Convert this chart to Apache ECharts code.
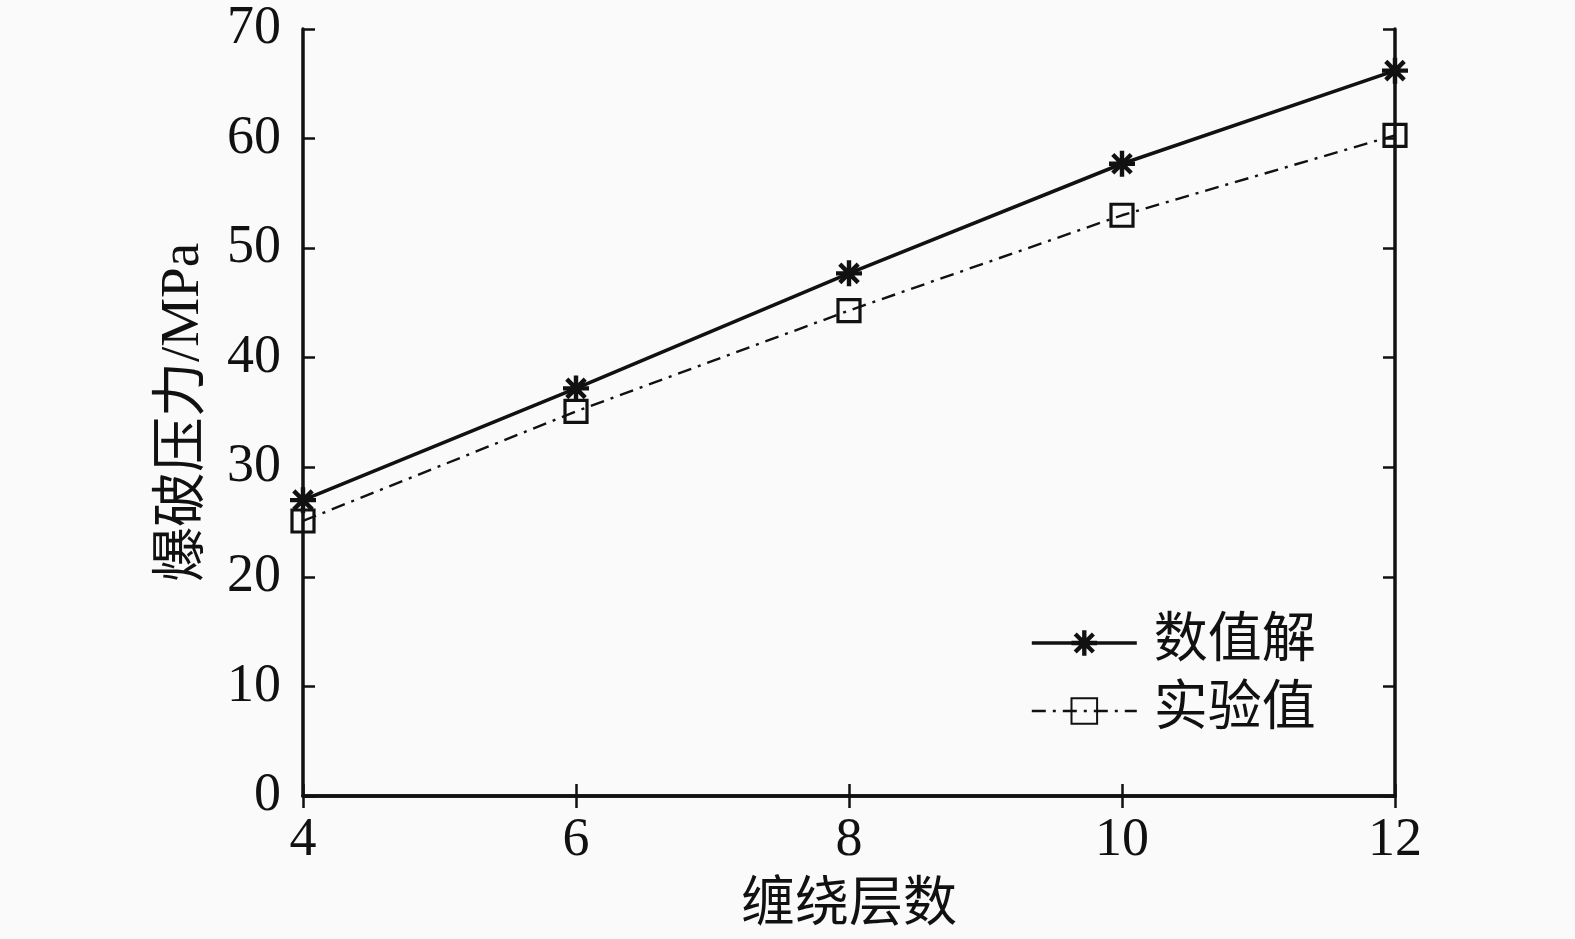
<!DOCTYPE html>
<html><head><meta charset="utf-8">
<script src="https://cdn.jsdelivr.net/npm/echarts@6/dist/echarts.min.js"></script>
<style>html,body{margin:0;padding:0;background:#fafafa}#c{width:1575px;height:939px}</style>
</head><body><div id="c"></div>
<script>
const layers = [4, 6, 8, 10, 12];
const numerical = [27.0, 37.2, 47.7, 57.7, 66.2];
const experimental = [25.1, 35.1, 44.3, 53.0, 60.3];
const seriesNames = ['数值解', '实验值'];
const xAxisName = '缠绕层数';
const yAxisName = '爆破压力/MPa';

const asterisk = 'path://M-1.7,-10L1.7,-10L1.7,10L-1.7,10Z M-10,-1.7L10,-1.7L10,1.7L-10,1.7Z M-8.3,-5.9L-5.9,-8.3L8.3,5.9L5.9,8.3Z M5.9,-8.3L8.3,-5.9L-5.9,8.3L-8.3,5.9Z';
const font = "'Liberation Serif','Noto Sans CJK SC',serif";
const chart = echarts.init(document.getElementById('c'));
const axisLine = {show: true, lineStyle: {color: '#111', width: 3.5}};
const tick = {show: true, inside: true, length: 12, lineStyle: {color: '#111', width: 2.5}};
chart.setOption({
  backgroundColor: '#fafafa',
  animation: false,
  grid: {left: 303, top: 29, width: 1092, height: 767, containLabel: false},
  xAxis: [
    {type: 'value', min: 4, max: 12, interval: 2, position: 'bottom',
     name: xAxisName, nameLocation: 'middle', nameGap: 84,
     nameTextStyle: {fontFamily: font, fontSize: 54, color: '#111'},
     axisLine, axisTick: tick, splitLine: {show: false},
     axisLabel: {fontFamily: font, fontSize: 54, color: '#111', margin: 18}},
    {type: 'value', min: 4, max: 12, interval: 2, position: 'top',
     axisLine, axisTick: tick, splitLine: {show: false}, axisLabel: {show: false}}
  ],
  yAxis: [
    {type: 'value', min: 0, max: 70, interval: 10, position: 'left',
     name: yAxisName, nameLocation: 'middle', nameGap: 92,
     nameTextStyle: {fontFamily: font, fontSize: 55, color: '#111'},
     axisLine, axisTick: tick, splitLine: {show: false},
     axisLabel: {fontFamily: font, fontSize: 54, color: '#111', margin: 22}},
    {type: 'value', min: 0, max: 70, interval: 10, position: 'right',
     axisLine, axisTick: tick, splitLine: {show: false}, axisLabel: {show: false}}
  ],
  legend: {
    orient: 'vertical', left: 1025, top: 610, itemWidth: 105, itemHeight: 32, itemGap: 12,
    lineStyle: {width: 'inherit'},
    textStyle: {fontFamily: font, fontSize: 54, lineHeight: 56, color: '#111', padding: [0, 0, 0, 12]},
    data: seriesNames
  },
  series: [
    {name: seriesNames[0], type: 'line', data: layers.map((x, i) => [x, numerical[i]]),
     symbol: asterisk, symbolSize: 26, lineStyle: {color: '#111', width: 3.6, type: 'solid'},
     itemStyle: {color: '#111'}, z: 3},
    {name: seriesNames[1], type: 'line', data: layers.map((x, i) => [x, experimental[i]]),
     symbol: 'rect', symbolSize: 22, lineStyle: {color: '#111', width: 2.4, type: [14, 7, 3, 7]},
     itemStyle: {color: 'rgba(0,0,0,0)', borderColor: '#111', borderWidth: 3.2}, z: 2}
  ]
});
</script></body></html>
